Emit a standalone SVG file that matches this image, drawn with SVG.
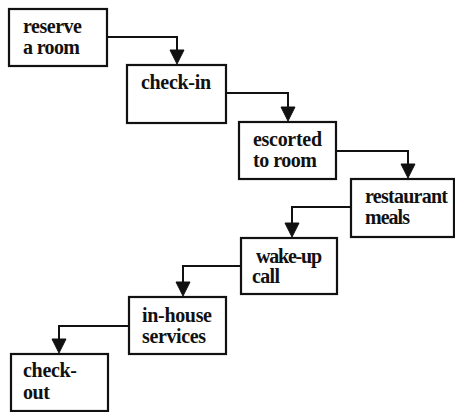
<svg xmlns="http://www.w3.org/2000/svg" width="455" height="412" viewBox="0 0 455 412">
<style>
rect.box{fill:#fff;stroke:#111;stroke-width:2.2}
text{font-family:"Liberation Serif","Times New Roman",serif;font-weight:bold;font-size:20px;fill:#111}
path.line{fill:none;stroke:#111;stroke-width:2}
path.head{fill:#111;stroke:#111;stroke-width:1}
</style>
<g id="n1"><rect class="box" x="9" y="9" width="98" height="57"/><text x="23" y="33" textLength="59">reserve</text><text x="23" y="54" textLength="57">a room</text></g>
<g id="n2"><rect class="box" x="127" y="65" width="99" height="58"/><text x="141" y="89" textLength="70">check-in</text></g>
<g id="n3"><rect class="box" x="239" y="122" width="97" height="57"/><text x="253" y="146" textLength="69">escorted</text><text x="253" y="167" textLength="64">to room</text></g>
<g id="n4"><rect class="box" x="351" y="179" width="103" height="58"/><text x="365" y="203" textLength="83">restaurant</text><text x="365" y="224" textLength="45">meals</text></g>
<g id="n5"><rect class="box" x="241" y="238" width="96" height="56"/><text x="256" y="263" textLength="66">wake-up</text><text x="252" y="283" textLength="28">call</text></g>
<g id="n6"><rect class="box" x="129" y="297" width="97" height="57"/><text x="142" y="322" textLength="70">in-house</text><text x="142" y="343" textLength="64">services</text></g>
<g id="n7"><rect class="box" x="11" y="354" width="97" height="57"/><text x="23" y="377" textLength="54">check-</text><text x="23" y="399" textLength="27">out</text></g>
<g id="connectors">
<path class="line" d="M107,37 H177 V52"/><path class="head" d="M170,50 L184,50 L177,64 Z"/>
<path class="line" d="M226,93 H288 V109"/><path class="head" d="M281,107 L295,107 L288,121 Z"/>
<path class="line" d="M336,151 H408 V166"/><path class="head" d="M401,164 L415,164 L408,178 Z"/>
<path class="line" d="M351,207 H292 V225"/><path class="head" d="M285,223 L299,223 L292,237 Z"/>
<path class="line" d="M241,266 H183 V284"/><path class="head" d="M176,282 L190,282 L183,296 Z"/>
<path class="line" d="M129,326 H59 V341"/><path class="head" d="M52,339 L66,339 L59,353 Z"/>
</g>
</svg>
